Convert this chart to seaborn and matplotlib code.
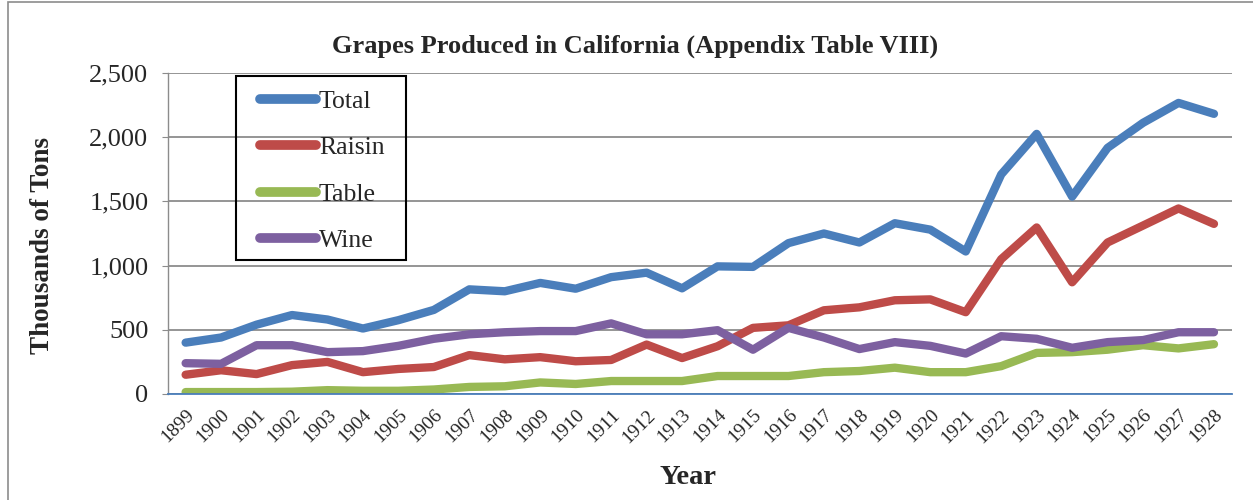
import matplotlib
matplotlib.use("Agg")
import matplotlib.pyplot as plt
import matplotlib.patches as mpatches
import matplotlib.ticker as mticker
import seaborn as sns
import pandas as pd

years = [str(y) for y in range(1899, 1929)]
total = [400, 440, 540, 615, 580, 510, 575, 655, 815, 800, 865, 820, 910, 945, 823, 994, 990,
         1175, 1250, 1180, 1330, 1280, 1110, 1710, 2026, 1537, 1917, 2112, 2267, 2182]
raisin = [150, 185, 155, 225, 250, 170, 195, 210, 303, 270, 287, 255, 265, 385, 280, 372, 515,
          535, 652, 675, 730, 737, 637, 1050, 1297, 870, 1180, 1312, 1445, 1325]
table = [15, 15, 15, 18, 30, 25, 25, 35, 55, 60, 90, 78, 101, 101, 101, 140, 140,
         140, 170, 179, 205, 170, 170, 217, 320, 326, 345, 380, 355, 388]
wine = [240, 235, 380, 380, 326, 334, 375, 430, 465, 481, 490, 490, 550, 465, 465, 497, 345,
        515, 440, 350, 404, 375, 315, 450, 430, 360, 404, 420, 481, 481]

series_names = ["Total", "Raisin", "Table", "Wine"]
colors = ["#4a7ebb", "#be4b48", "#98b954", "#7d60a0"]

df = pd.concat([
    pd.DataFrame({"Year": years, "Tons": vals, "Series": name})
    for name, vals in zip(series_names, [total, raisin, table, wine])
], ignore_index=True)

sns.set_style("white")
plt.rcParams["font.family"] = ["Liberation Serif", "DejaVu Serif"]

W, H = 1253, 500
fig = plt.figure(figsize=(W / 100, H / 100), dpi=100)
ax = fig.add_axes([0.134, 0.212, 0.849, 0.642])

sns.lineplot(data=df, x="Year", y="Tons", hue="Series", hue_order=series_names,
             palette=colors, linewidth=6, ax=ax, sort=False,
             solid_capstyle="round", solid_joinstyle="round")

ax.set_xlim(-0.5, len(years) - 0.5)
ax.set_ylim(0, 2500)
ax.yaxis.set_major_locator(mticker.MultipleLocator(500))
ax.yaxis.set_major_formatter(mticker.FuncFormatter(lambda v, p: f"{int(v):,}"))
ax.grid(axis="y", color="#8c8c8c", linewidth=1.3)
ax.set_axisbelow(True)

for s in ["top", "right"]:
    ax.spines[s].set_visible(False)
ax.spines["left"].set_color("#8c8c8c")
ax.spines["left"].set_linewidth(1.0)
ax.spines["bottom"].set_color("#4a7ebb")
ax.spines["bottom"].set_linewidth(1.3)

ax.set_xticks(range(len(years)))
ax.set_xticklabels(years, rotation=45, ha="right", rotation_mode="anchor", fontsize=14)
ax.tick_params(axis="x", which="major", length=0, pad=9)
ax.set_xticks([i - 0.5 for i in range(len(years) + 1)], minor=True)
ax.tick_params(axis="x", which="minor", length=5, color="#4a7ebb", width=1.3, direction="out")
ax.tick_params(axis="y", which="major", length=4, color="#8c8c8c", labelsize=19, pad=10, left=True)

ax.set_xlabel("")
ax.set_ylabel("")
fig.text(0.549, 0.046, "Year", fontsize=20.5, fontweight="bold", ha="center", va="center")
fig.text(0.034, 0.51, "Thousands of Tons", fontsize=19.5, fontweight="bold", ha="center",
         va="center", rotation=90)
fig.text(0.507, 0.908, "Grapes Produced in California (Appendix Table VIII)", fontsize=19,
         fontweight="bold", ha="center", va="center")

leg = ax.legend(loc="upper left", bbox_to_anchor=(0.0865, 0.946), borderaxespad=0, fontsize=18.5,
                frameon=False, handlelength=2.2, handletextpad=0.1, labelspacing=0.9,
                borderpad=0, title=None)
for line in leg.get_lines():
    line.set_linewidth(7)
    line.set_solid_capstyle("round")

# legend frame box (as in the reference, wider padding at the sides)
fig.patches.append(mpatches.Rectangle((236 / W, 1 - 260 / H), 170 / W, 184 / H,
                                      transform=fig.transFigure, fill=False,
                                      edgecolor="black", linewidth=1.5, zorder=5))

fig.patches.append(mpatches.Rectangle((0.006, -0.01), 1.1, 1.006, transform=fig.transFigure,
                                      fill=False, edgecolor="#8c8c8c", linewidth=1.2))

fig.savefig("out.png", dpi=100)
